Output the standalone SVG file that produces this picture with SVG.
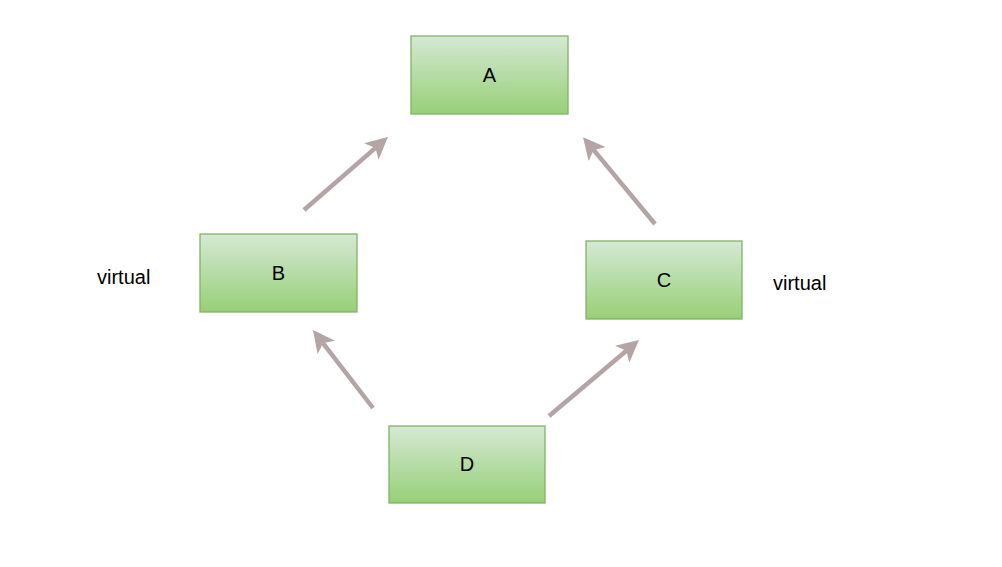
<svg xmlns="http://www.w3.org/2000/svg" width="1002" height="567" viewBox="0 0 1002 567">
<style>
.box{fill:url(#g);stroke:#82b366;stroke-width:1.3}
.lbl{font-family:"Liberation Sans",Arial,sans-serif;font-size:20px;fill:#000;text-anchor:middle;dominant-baseline:central}
.side{font-family:"Liberation Sans",Arial,sans-serif;font-size:20px;fill:#000}
.edge{stroke:#b5a4a4;stroke-width:4.5;fill:none;marker-end:url(#ah)}
</style>
<defs>
<linearGradient id="g" x1="0" y1="0" x2="0" y2="1">
<stop offset="0" stop-color="#d5e8d4"/>
<stop offset="1" stop-color="#97d077"/>
</linearGradient>
<marker id="ah" viewBox="0 0 20 20" markerWidth="22" markerHeight="22" markerUnits="userSpaceOnUse" refX="5" refY="10" orient="auto">
<path d="M0,0 L20,10 L0,20 L5,10 Z" fill="#b5a4a4"/>
</marker>
</defs>
<rect width="1002" height="567" fill="#fff"/>
<g id="edges">
<path class="edge" d="M304,210 L375.5,147.9"/>
<path class="edge" d="M655,224 L593.6,149.9"/>
<path class="edge" d="M373,408 L323,343.1"/>
<path class="edge" d="M549,416 L626.4,350.7"/>
</g>
<g id="A"><rect class="box" x="411" y="36" width="157" height="78"/><text class="lbl" x="489.5" y="75">A</text></g>
<g id="B"><rect class="box" x="200" y="234" width="157" height="78"/><text class="lbl" x="278.5" y="273">B</text></g>
<g id="C"><rect class="box" x="586" y="241" width="156" height="78"/><text class="lbl" x="664" y="280">C</text></g>
<g id="D"><rect class="box" x="389" y="426" width="156" height="77"/><text class="lbl" x="467" y="464">D</text></g>
<text class="side" x="97" y="284">virtual</text>
<text class="side" x="773" y="290">virtual</text>
</svg>
